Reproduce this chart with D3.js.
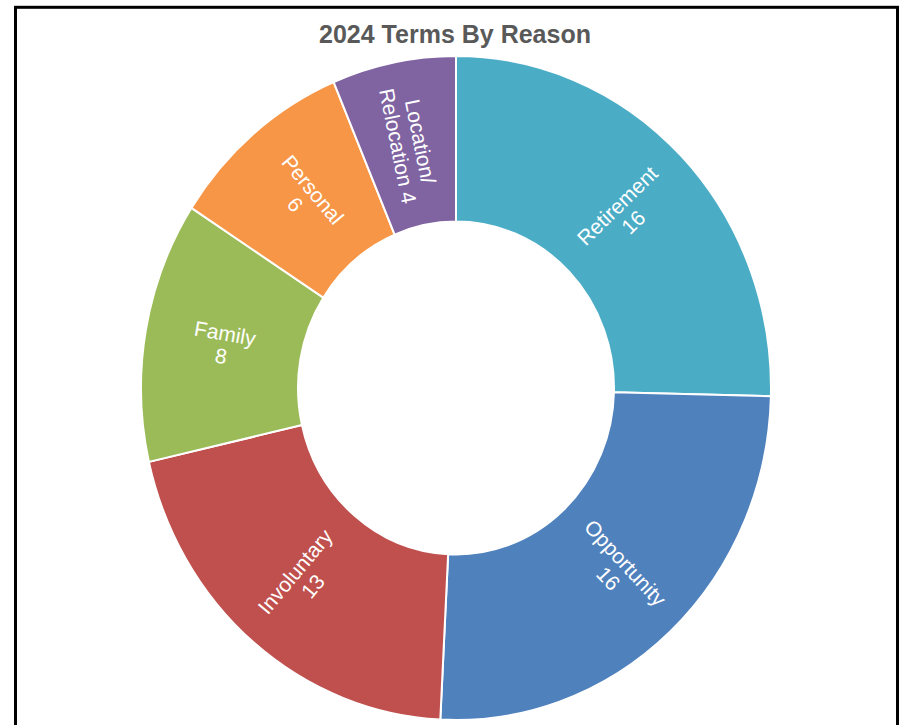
<!DOCTYPE html>
<html>
<head>
<meta charset="utf-8">
<script src="https://cdn.jsdelivr.net/npm/d3@7"></script>
<style>
  body { margin: 0; background: #fff; }
</style>
</head>
<body>
<div id="container"></div>
<script>
/* CONSTANTS AND GLOBALS */
const width = 901,
  height = 725,
  cx = 456, cy = 388,
  outerR = 315, innerR = 158,
  yStretch = 1.054; // picture is slightly taller than wide

/* DATA */
const reasons = ["Retirement", "Opportunity", "Involuntary", "Family", "Personal", "Location/Relocation"];
const counts = [16, 16, 13, 8, 6, 4];
const sliceColors = ["#4BACC6", "#4F81BD", "#C0504D", "#9BBB59", "#F79646", "#8064A2"];
const title = "2024 Terms By Reason";

const data = reasons.map((r, i) => ({ reason: r, count: counts[i] }));

const colorScale = d3.scaleOrdinal()
  .domain(reasons)
  .range(sliceColors);

const svg = d3.select("#container")
  .append("svg")
  .attr("width", width)
  .attr("height", height)
  .style("font-family", "Arial, 'Liberation Sans', sans-serif");

// frame
svg.append("rect")
  .attr("x", 15.5)
  .attr("y", 7.3)
  .attr("width", 882)
  .attr("height", 760)
  .attr("fill", "#fff")
  .attr("stroke", "#000")
  .attr("stroke-width", 3);

// title
svg.append("text")
  .attr("x", 455)
  .attr("y", 42.5)
  .attr("text-anchor", "middle")
  .attr("fill", "#595959")
  .attr("font-weight", "bold")
  .attr("font-size", 25)
  .text(title);

/* PIE */
const pie = d3.pie()
  .value(d => d.count)
  .sort(null);

const arc = d3.arc()
  .innerRadius(innerR)
  .outerRadius(outerR);

const arcs = pie(data);

svg.append("g")
  .attr("transform", `translate(${cx},${cy}) scale(1,${yStretch})`)
  .selectAll("path")
  .data(arcs)
  .join("path")
  .attr("d", arc)
  .attr("fill", d => colorScale(d.data.reason))
  .attr("stroke", "#fff")
  .attr("stroke-width", 2)
  .attr("vector-effect", "non-scaling-stroke");

/* LABELS */
function labelLines(d) {
  const name = d.data.reason;
  if (name.includes("/")) {
    const parts = name.split("/");
    return [parts[0] + "/", parts[1] + " " + d.data.count];
  }
  return [name, String(d.data.count)];
}

const lineH = 23;

const labels = svg.append("g")
  .selectAll("text")
  .data(arcs)
  .join("text")
  .attr("transform", d => {
    const [x, y] = arc.centroid(d);
    const mid = (d.startAngle + d.endAngle) / 2 * 180 / Math.PI;
    const rot = mid <= 180 ? mid - 90 : mid - 270;
    return `translate(${cx + x},${cy + y * yStretch}) rotate(${rot})`;
  })
  .attr("text-anchor", "middle")
  .attr("fill", "#fff")
  .attr("font-size", 21);

labels.selectAll("tspan")
  .data(d => labelLines(d))
  .join("tspan")
  .attr("x", 0)
  .attr("y", (l, i) => (i - 0.5) * lineH)
  .attr("dy", "0.35em")
  .text(l => l);
</script>
</body>
</html>
